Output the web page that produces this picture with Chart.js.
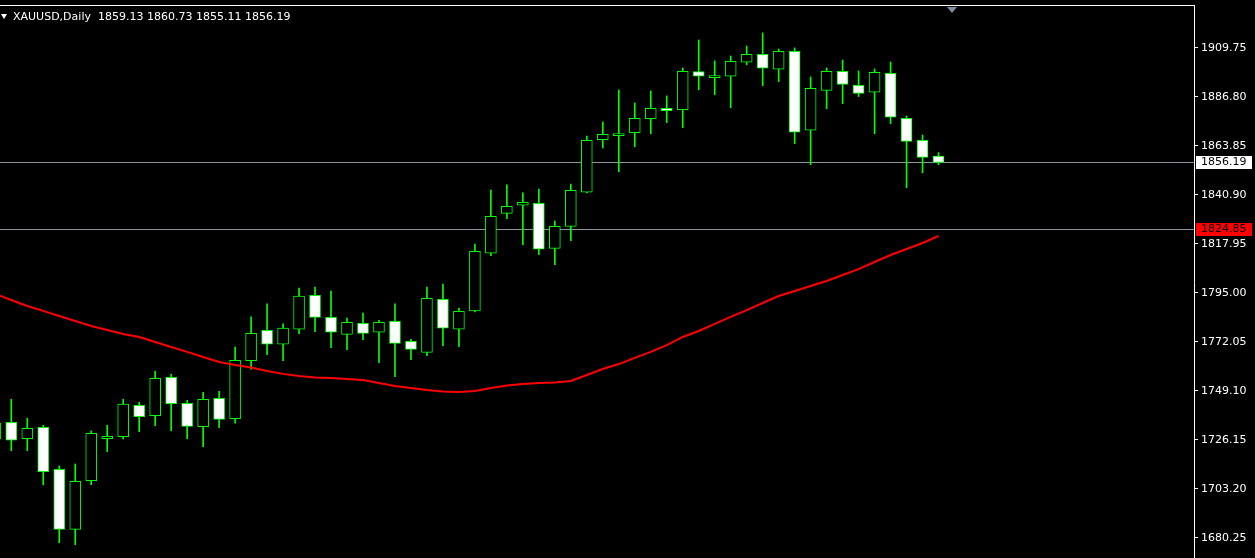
<!DOCTYPE html>
<html>
<head>
<meta charset="utf-8">
<title>XAUUSD,Daily</title>
<script src="https://cdn.jsdelivr.net/npm/chart.js@4.4.1/dist/chart.umd.min.js"></script>
<style>
  html, body { margin: 0; padding: 0; background: #000; }
  #wrap { position: relative; width: 1255px; height: 558px; overflow: hidden; }
  #header {
    position: absolute; left: 1px; top: 10px;
    font-family: "DejaVu Sans", sans-serif; font-size: 11px; color: #fff;
    white-space: pre; pointer-events: none;
  }
  #header .tri {
    display: inline-block; width: 0; height: 0; vertical-align: 1px;
    border-left: 3px solid transparent; border-right: 3px solid transparent;
    border-top: 5px solid #fff; margin-right: 6px;
  }
</style>
</head>
<body>
<div id="wrap">
  <canvas id="chart"></canvas>
  <div id="header"><span class="tri"></span>XAUUSD,Daily  1859.13 1860.73 1855.11 1856.19</div>
</div>
<script>
// daily bars, oldest first (first one is cut off at the left edge)
const opens = [1726.6, 1734.4, 1726.8, 1732.1, 1712.4, 1684.3, 1707.1, 1726.8, 1727.7, 1742.4,
  1737.5, 1755.5, 1743.3, 1732.4, 1745.7, 1736.1, 1763.3, 1777.5, 1771.0, 1778.0,
  1793.9, 1783.6, 1775.6, 1780.8, 1776.6, 1781.7, 1772.4, 1767.2, 1792.0, 1778.0,
  1786.6, 1813.6, 1832.3, 1836.1, 1837.0, 1815.9, 1826.2, 1842.2, 1866.8, 1868.7,
  1870.1, 1876.6, 1881.5, 1880.9, 1898.7, 1895.9, 1896.5, 1903.1, 1906.8, 1899.8,
  1908.2, 1871.2, 1889.9, 1898.8, 1892.3, 1889.0, 1897.9, 1876.8, 1866.5, 1859.13];
const highs = [1737.9, 1745.2, 1736.3, 1733.0, 1714.0, 1714.9, 1730.4, 1733.0, 1745.2, 1743.8,
  1758.3, 1756.9, 1744.7, 1748.5, 1748.9, 1769.7, 1783.8, 1789.9, 1780.5, 1797.3,
  1797.8, 1795.9, 1783.2, 1785.6, 1782.2, 1789.9, 1773.3, 1797.8, 1799.2, 1787.9,
  1817.9, 1843.2, 1845.6, 1841.9, 1843.7, 1828.7, 1846.0, 1868.5, 1875.1, 1890.1,
  1884.0, 1889.6, 1887.3, 1900.4, 1913.5, 1903.7, 1906.0, 1910.7, 1916.8, 1909.3,
  1909.8, 1896.2, 1900.4, 1904.1, 1899.0, 1899.9, 1903.2, 1877.9, 1869.0, 1860.73];
const lows = [1723.8, 1721.1, 1721.1, 1705.2, 1678.0, 1677.1, 1705.2, 1720.7, 1726.6, 1730.0,
  1732.8, 1730.5, 1726.8, 1723.0, 1731.9, 1734.0, 1759.3, 1766.1, 1763.3, 1775.9,
  1776.9, 1769.4, 1768.4, 1773.1, 1762.3, 1755.8, 1763.8, 1765.6, 1770.3, 1769.8,
  1786.1, 1812.5, 1829.8, 1817.6, 1812.9, 1808.2, 1819.5, 1841.9, 1862.9, 1851.8,
  1863.5, 1869.6, 1874.8, 1872.4, 1890.2, 1887.9, 1881.8, 1901.9, 1892.1, 1894.0,
  1864.9, 1855.1, 1881.3, 1883.7, 1887.0, 1869.6, 1874.3, 1844.3, 1851.3, 1855.11];
const closes = [1734.1, 1726.0, 1731.6, 1711.3, 1684.3, 1706.8, 1729.3, 1727.9, 1742.9, 1737.1,
  1755.0, 1743.1, 1732.5, 1745.2, 1735.8, 1763.5, 1776.1, 1771.0, 1778.5, 1793.5,
  1783.6, 1776.6, 1781.3, 1776.1, 1781.3, 1771.4, 1768.6, 1792.5, 1778.5, 1786.4,
  1814.5, 1830.9, 1835.6, 1837.5, 1815.5, 1826.2, 1843.1, 1866.5, 1869.3, 1869.5,
  1876.8, 1881.5, 1880.4, 1898.8, 1896.5, 1896.6, 1903.5, 1906.8, 1900.3, 1908.2,
  1870.3, 1890.9, 1898.8, 1892.7, 1888.5, 1898.4, 1877.3, 1866.0, 1858.5, 1856.19];
// moving average (red)
const maValues = [1794.5, 1791.7, 1788.9, 1786.6, 1784.2, 1781.9, 1779.5, 1777.7, 1775.8, 1774.4,
  1772.0, 1769.7, 1767.4, 1765.0, 1762.7, 1761.3, 1760.1, 1758.5, 1757.1, 1756.1,
  1755.4, 1755.2, 1754.7, 1754.2, 1752.8, 1751.4, 1750.5, 1749.5, 1748.8, 1748.6,
  1749.1, 1750.5, 1751.7, 1752.4, 1752.8, 1753.1, 1753.8, 1756.6, 1759.4, 1761.7,
  1764.6, 1767.4, 1770.6, 1774.4, 1777.2, 1780.5, 1783.8, 1787.0, 1790.3, 1793.6,
  1795.9, 1798.3, 1800.6, 1803.4, 1806.2, 1809.5, 1812.8, 1815.6, 1818.4, 1821.7];
const yTicks = [1680.25, 1703.20, 1726.15, 1749.10, 1772.05, 1795.00, 1817.95, 1840.90, 1863.85, 1886.80, 1909.75];
const bidPrice = 1856.19;
const levelPrice = 1824.85;

const GREEN = "#00ff00";

const bodies = opens.map((o, i) => ({ x: i, y: [o, closes[i]] }));
const wicks = lows.map((l, i) => ({ x: i, y: [l, highs[i]] }));
const ma = maValues.map((v, i) => ({ x: i, y: v }));

const frame = {
  id: "frame",
  beforeDatasetsDraw(chart) {
    const { ctx, chartArea } = chart;
    const y = chart.scales.y;
    ctx.save();
    ctx.fillStyle = "#8a96a3";
    [bidPrice, levelPrice].forEach((v) => {
      const py = Math.round(y.getPixelForValue(v));
      ctx.fillRect(chartArea.left, py, chartArea.right - chartArea.left, 1);
    });
    ctx.restore();
  },
  afterDraw(chart) {
    const { ctx, chartArea } = chart;
    const y = chart.scales.y;
    ctx.save();
    // top frame line
    ctx.fillStyle = "#ffffff";
    ctx.fillRect(0, chartArea.top - 1, chartArea.right + 1, 1);
    // chart shift marker
    ctx.fillStyle = "#7d8fa3";
    ctx.beginPath();
    ctx.moveTo(947, chartArea.top + 1);
    ctx.lineTo(957, chartArea.top + 1);
    ctx.lineTo(952, chartArea.top + 7);
    ctx.closePath();
    ctx.fill();
    // price boxes on the axis
    ctx.font = "11px 'DejaVu Sans'";
    ctx.textBaseline = "middle";
    [
      { v: bidPrice, bg: "#ffffff", fg: "#000000" },
      { v: levelPrice, bg: "#ff0000", fg: "#000000" },
    ].forEach((b) => {
      const py = Math.round(y.getPixelForValue(b.v));
      ctx.fillStyle = b.bg;
      ctx.fillRect(chartArea.right + 2, py - 6, 56, 13);
      ctx.fillStyle = b.fg;
      ctx.fillText(b.v.toFixed(2), chartArea.right + 7, py + 0.5);
    });
    ctx.restore();
  },
};

new Chart(document.getElementById("chart"), {
  type: "bar",
  data: {
    datasets: [
      {
        type: "line",
        data: ma,
        borderColor: "#ff0000",
        borderWidth: 2,
        pointRadius: 0,
        tension: 0,
        order: 0,
      },
      {
        data: bodies,
        backgroundColor: bodies.map((b) => (b.y[1] < b.y[0] ? "#ffffff" : "#000000")),
        borderColor: GREEN,
        borderWidth: 1,
        borderSkipped: false,
        barThickness: 11,
        minBarLength: 2,
        grouped: false,
        order: 1,
      },
      {
        data: wicks,
        backgroundColor: GREEN,
        borderWidth: 0,
        barThickness: 1,
        grouped: false,
        order: 2,
      },
    ],
  },
  options: {
    responsive: true,
    maintainAspectRatio: false,
    animation: false,
    layout: { padding: { top: 6, left: 0, right: 0, bottom: 0 } },
    plugins: {
      legend: { display: false },
      tooltip: { enabled: false },
    },
    scales: {
      x: {
        type: "linear",
        min: 0.294,
        max: 74.98,
        offset: false,
        bounds: "ticks",
        display: false,
      },
      y: {
        position: "right",
        min: 1670.86,
        max: 1929.42,
        afterBuildTicks: (s) => {
          s.ticks = yTicks.map((v) => ({ value: v }));
        },
        afterFit: (s) => {
          s.width = 61;
          s.paddingTop = 0;
          s.paddingBottom = 0;
        },
        ticks: {
          color: "#ffffff",
          padding: 3,
          font: { family: "'DejaVu Sans'", size: 11 },
          callback: (v) => Number(v).toFixed(2),
        },
        grid: {
          drawOnChartArea: false,
          drawTicks: true,
          tickLength: 4,
          color: "#ffffff",
        },
        border: { display: true, color: "#ffffff", width: 1 },
      },
    },
  },
  plugins: [frame],
});
</script>
</body>
</html>
